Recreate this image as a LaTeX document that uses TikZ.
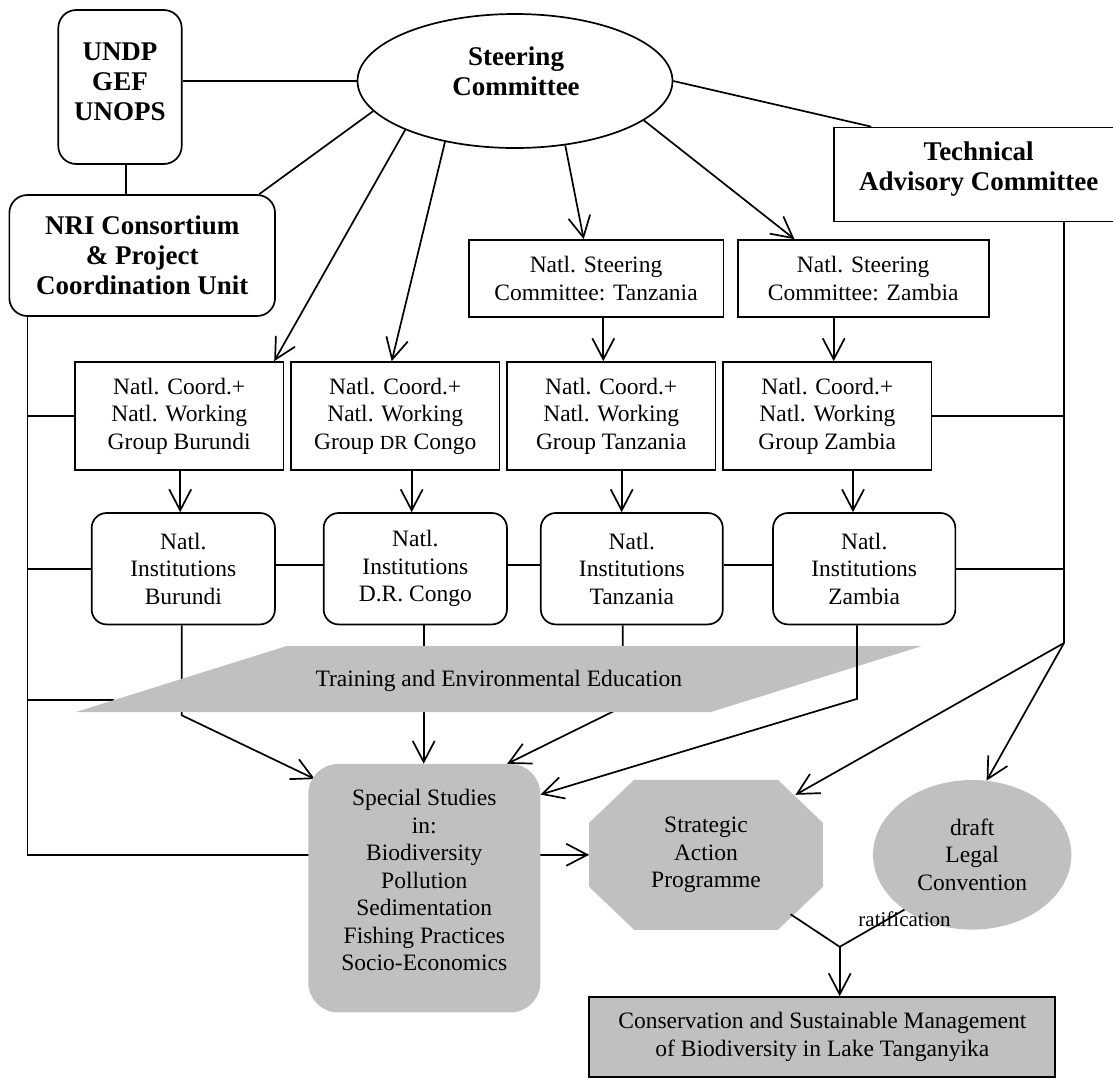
\documentclass[tikz,border=0pt]{standalone}
\usepackage{fontspec}
\setmainfont{Liberation Serif}
\usetikzlibrary{arrows.meta,shapes.geometric,calc}
\pgfdeclarelayer{background}
\pgfsetlayers{background,main}
\definecolor{sil}{RGB}{192,192,192}
\newcommand\normtxt{\fontsize{23.5}{27.5}\selectfont}
\newcommand\boldtxt{\fontsize{27}{30}\selectfont\bfseries}
\newcommand\labtxt{\fontsize{21}{24}\selectfont}
\newcommand\smcapdr{\fontsize{20}{24}\selectfont}
\begin{document}
\begin{tikzpicture}[x=1pt,y=-1pt,
  ln/.style={line width=1.7pt},
  arr/.style={ln,-{Straight Barb[length=21pt,width=22pt]}},
  sbox/.style={draw,line width=1.7pt,rectangle,inner sep=0pt},
  rbox/.style={sbox,rounded corners=16pt},
  nt/.style={font=\normtxt,align=center,inner sep=0pt},
  bt/.style={font=\boldtxt,align=center,inner sep=0pt}]
\useasboundingbox (0,0) rectangle (1113,1080);
\clip (0,0) rectangle (1113,1080);

% top level
\node[rbox,rounded corners=18pt,minimum width=123.4pt,minimum height=154pt] (undp) at (120,87) {};
\node[bt] (undpT) at (120,82) {UNDP\\GEF\\UNOPS};
\node[rbox,rounded corners=18pt,bt,minimum width=265.7pt,minimum height=121pt] (nri) at (142.2,255.5) {NRI Consortium\\\& Project\\Coordination Unit};
\node[draw,line width=1.7pt,ellipse,inner sep=0pt,minimum width=315pt,minimum height=134pt] (sc) at (515,81) {};
\node[bt] (scT) at (516,71.5) {Steering\\Committee};
\node[sbox,minimum width=290pt,minimum height=94pt] (tac) at (978.8,174.5) {};
\node[bt] (tacT) at (978.7,169.5) {Technical\\Advisory Committee};

% national steering committees
\node[sbox,nt,minimum width=254.7pt,minimum height=77pt] (nsT) at (596,278.5) {Natl. Steering\\Committee: Tanzania};
\node[sbox,nt,minimum width=251pt,minimum height=77pt] (nsZ) at (863.2,278.5) {Natl. Steering\\Committee: Zambia};

% working groups
\node[sbox,nt,minimum width=208.3pt,minimum height=108pt] (wgB) at (179.2,416) {Natl. Coord.+\\Natl. Working\\Group Burundi};
\node[sbox,nt,minimum width=208.3pt,minimum height=108pt] (wgD) at (395.2,416) {Natl. Coord.+\\Natl. Working\\Group {\smcapdr DR} Congo};
\node[sbox,nt,minimum width=208.3pt,minimum height=108pt] (wgT) at (611.2,416) {Natl. Coord.+\\Natl. Working\\Group Tanzania};
\node[sbox,nt,minimum width=208.3pt,minimum height=108pt] (wgZ) at (827.3,416) {Natl. Coord.+\\Natl. Working\\Group Zambia};

% institutions
\node[rbox,rounded corners=15pt,nt,minimum width=183.3pt,minimum height=111.4pt] (inB) at (183.3,568.7) {Natl.\\Institutions\\Burundi};
\node[rbox,rounded corners=15pt,nt,minimum width=183.3pt,minimum height=111.4pt] (inD) at (415.3,568.7) {Natl.\\Institutions\\D.R. Congo};
\node[rbox,rounded corners=15pt,nt,minimum width=182pt,minimum height=111.4pt] (inT) at (631.8,568.7) {Natl.\\Institutions\\Tanzania};
\node[rbox,rounded corners=15pt,nt,minimum width=182.3pt,minimum height=111.4pt] (inZ) at (864.2,568.7) {Natl.\\Institutions\\Zambia};

% lower nodes
\node[fill=sil,rounded corners=30pt,inner sep=0pt,minimum width=232pt,minimum height=248.5pt] (ss) at (424.3,888.2) {};
\node[nt] (ssT) at (424.3,880) {Special Studies\\in:\\Biodiversity\\Pollution\\Sedimentation\\Fishing Practices\\Socio-Economics};
\node[nt,minimum width=233.4pt,minimum height=149.6pt] (sap) at (706,854.8) {Strategic\\Action\\Programme};
\node[ellipse,fill=sil,nt,minimum width=198.3pt,minimum height=149.6pt] (lc) at (972.2,854.8) {draft\\Legal\\Convention};
\node[sbox,fill=sil,nt,minimum width=466pt,minimum height=80pt] (cons) at (822.3,1037) {Conservation and Sustainable Management\\of Biodiversity in Lake Tanganyika};

% helper coordinates
\coordinate (bus) at ([xshift=19pt]nri.south west);
\coordinate (tbus) at (1064,643);
\coordinate (jn) at (839.7,946.8);
\coordinate (trW) at (114.3,700);

% background: connectors hidden behind shapes, octagon fill
\begin{pgfonlayer}{background}
\fill[sil] ([xshift=45pt]sap.north west) -- ([xshift=-45pt]sap.north east)
  -- ([yshift=-43pt]sap.north east) -- ([yshift=43pt]sap.south east)
  -- ([xshift=-45pt]sap.south east) -- ([xshift=45pt]sap.south west)
  -- ([yshift=43pt]sap.south west) -- ([yshift=-43pt]sap.north west) -- cycle;
\draw[arr] (bus) |- (sap.west);
\draw[arr] ([xshift=-1.6pt]inB.south) -- ++(0,90) -- ($(ss.north west)+(6.7,15.3)$);
\draw[arr] ([xshift=8.4pt]inD.south) -- ([xshift=8.4pt]inD.south |- ss.north);
\draw[arr] ([xshift=-9.1pt]inT.south) -- ++(0,81.5) -- ($(ss.north east)+(-33.3,0)$);
\draw[ln] (trW -| bus) -- (trW);
\end{pgfonlayer}

% training band
\fill[sil] (76,712) -- (711,712) -- (922,646) -- (286.7,646) -- cycle;
\node[nt] (tr) at (498.8,681) {Training and Environmental Education};

% top connectors
\draw[ln] (undp.east |- sc.west) -- (sc.west);
\draw[ln] ([xshift=5.7pt]undp.south) -- ([xshift=5.7pt]undp.south |- nri.north);
\draw[ln] (sc.192.3) -- ([xshift=-16.7pt]nri.north east);
\draw[arr] (sc.204.2) -- ([xshift=-10pt]wgB.north east);
\draw[arr] (sc.221) -- ([xshift=-3.5pt]wgD.north);
\draw[arr] (sc.-52) -- ([xshift=-12.3pt]nsT.north);
\draw[arr] (sc.-17.2) -- ([xshift=57.6pt]nsZ.north west);
\draw[ln] (sc.east) -- ([xshift=38.3pt]tac.north west);

% vertical arrows
\draw[arr] ([xshift=7.3pt]nsT.south) -- ([xshift=7.3pt]nsT.south |- wgT.north);
\draw[arr] ([xshift=-29.5pt]nsZ.south) -- ([xshift=-29.5pt]nsZ.south |- wgZ.north);
\draw[arr] ([xshift=1pt]wgB.south) -- ([xshift=1pt]wgB.south |- inB.north);
\draw[arr] ([xshift=16.5pt]wgD.south) -- ([xshift=16.5pt]wgD.south |- inD.north);
\draw[arr] ([xshift=10.5pt]wgT.south) -- ([xshift=10.5pt]wgT.south |- inT.north);
\draw[arr] ([xshift=25.7pt]wgZ.south) -- ([xshift=25.7pt]wgZ.south |- inZ.north);

% side buses
\draw[ln] (wgB.west -| bus) -- (wgB.west);
\draw[ln] (inB.west -| bus) -- (inB.west);
\draw[ln] ([yshift=4pt]inB.east) -- ([yshift=4pt]inD.west);
\draw[ln] ([yshift=4pt]inD.east) -- ([yshift=4pt]inT.west);
\draw[ln] ([yshift=4pt]inT.east) -- ([yshift=4pt]inZ.west);
\draw[ln] (wgZ.east) -- (wgZ.east -| tbus);
\draw[ln] (inZ.east) -- (inZ.east -| tbus);
\draw[ln] (tac.south -| tbus) -- (tbus);
\draw[arr] (tbus) -- ($(sap.north east)+(-27.4,15)$);
\draw[arr] (tbus) -- (lc.79);

% Zambia institutions to special studies (in front of band)
\draw[arr] ([xshift=-7.2pt]inZ.south) -- ++(0,73.6) -- ($(ss.north east)+(0,30.8)$);

% ratification
\draw[ln] ($(sap.south east)+(-32.4,-15.6)$) -- (jn) -- (lc.219);
\draw[arr] (jn) -- (jn |- cons.north);
\node[font=\labtxt,inner sep=0pt] (ratL) at (904.5,919) {ratification};
\end{tikzpicture}
\end{document}
